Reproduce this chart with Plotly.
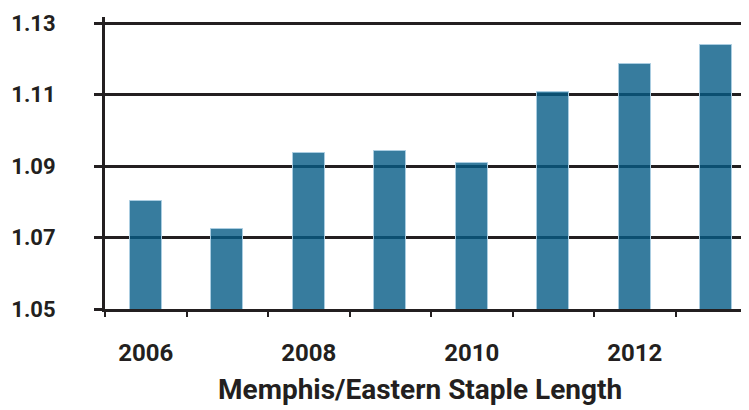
import plotly.graph_objects as go

years = [2006, 2007, 2008, 2009, 2010, 2011, 2012, 2013]
values = [1.0802, 1.0724, 1.0936, 1.0942, 1.0908, 1.1107, 1.1185, 1.1238]
xtick_vals = [2006, 2008, 2010, 2012]
xtick_text = ["2006", "2008", "2010", "2012"]
ytick_vals = [1.05, 1.07, 1.09, 1.11, 1.13]
ytick_text = ["1.05", "1.07", "1.09", "1.11", "1.13"]
title_text = "Memphis/Eastern Staple Length"

FONT = "Roboto, Liberation Sans Narrow, sans-serif"
INK = "#231f20"

# page body has an 8px default margin, so the figure is sized/offset to compensate
fig = go.Figure(go.Bar(
    x=years, y=values, width=0.39,
    marker=dict(color="rgba(5,91,134,0.8)", line=dict(color="rgba(170,205,225,1)", width=1)),
))

fig.update_layout(
    width=741, height=402,
    margin=dict(l=97, r=0, t=9, b=101),
    paper_bgcolor="white", plot_bgcolor="white",
    showlegend=False,
    font=dict(family=FONT, color=INK, size=24),
    bargap=0,
)
fig.update_xaxes(
    range=[2005.5, 2005.5 + 644 / 81.5],
    tickvals=xtick_vals, ticktext=xtick_text, ticks="",
    tickfont=dict(family=FONT, size=24, color=INK, weight="bold"),
    ticklabelstandoff=20,
    automargin=False,
    showline=True, linecolor=INK, linewidth=3,
    showgrid=False, zeroline=False,
    minor=dict(tick0=2005.5, dtick=1, ticks="outside", ticklen=5, tickwidth=1.5, tickcolor=INK, showgrid=False),
)
fig.update_yaxes(
    range=[1.05, 1.1317],
    tickvals=ytick_vals, ticktext=ytick_text,
    ticks="outside", ticklen=8, tickwidth=3, tickcolor=INK,
    tickfont=dict(family=FONT, size=22, color=INK, weight="bold"),
    ticklabelstandoff=34,
    automargin=False,
    showline=True, linecolor=INK, linewidth=3,
    showgrid=True, gridcolor=INK, gridwidth=3,
    zeroline=False,
)
fig.add_annotation(
    text=title_text, xref="paper", yref="paper", x=0.489, y=-0.277,
    xanchor="center", yanchor="middle", showarrow=False,
    font=dict(family=FONT, size=28, color=INK, weight="bold"),
)
fig.write_html("out.html")
